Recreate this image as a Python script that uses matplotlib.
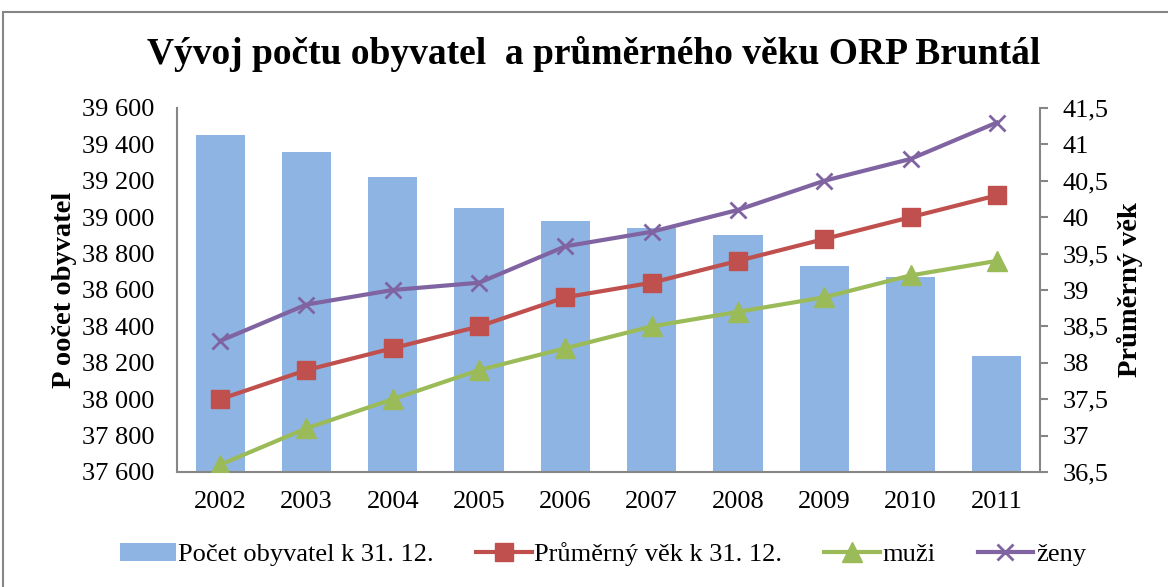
import numpy as np
import matplotlib.pyplot as plt
from matplotlib.patches import Rectangle
from matplotlib.ticker import FuncFormatter

plt.rcParams['font.family'] = ['Liberation Serif', 'DejaVu Serif']

roky = ['2002', '2003', '2004', '2005', '2006', '2007', '2008', '2009', '2010', '2011']
pocet = [39450, 39360, 39220, 39050, 38980, 38940, 38900, 38730, 38670, 38240]
vek = [37.5, 37.9, 38.2, 38.5, 38.9, 39.1, 39.4, 39.7, 40.0, 40.3]
muzi = [36.6, 37.1, 37.5, 37.9, 38.2, 38.5, 38.7, 38.9, 39.2, 39.4]
zeny = [38.3, 38.8, 39.0, 39.1, 39.6, 39.8, 40.1, 40.5, 40.8, 41.3]

grey = '#868686'

fig = plt.figure(figsize=(11.68, 5.87), dpi=100)
ax = fig.add_axes([177 / 1168, 1 - 472 / 587, (1040 - 177) / 1168, (472 - 108) / 587])
ax2 = ax.twinx()

x = np.arange(len(roky))
b = ax.bar(x, pocet, width=0.57, color='#8EB4E3', label='Počet obyvatel k 31. 12.', zorder=1)
ax.set_ylim(37600, 39600)
ax.set_yticks(np.arange(37600, 39601, 200))
ax.yaxis.set_major_formatter(FuncFormatter(lambda v, p: f'{int(v):,}'.replace(',', ' ')))
ax.set_xlim(-0.5, len(roky) - 0.5)
ax.set_xticks(x)
ax.set_xticklabels(roky)
ax.tick_params(axis='x', length=0, labelsize=19, pad=14)
ax.tick_params(axis='y', length=0, labelsize=19, pad=16)
ax.set_ylabel('P oočet obyvatel', fontsize=20.5, fontweight='bold', labelpad=4)

l1, = ax2.plot(x, vek, color='#C0504D', lw=3, marker='s', ms=13, label='Průměrný věk k 31. 12.')
l2, = ax2.plot(x, muzi, color='#9BBB59', lw=3, marker='^', ms=14, label='muži')
l3, = ax2.plot(x, zeny, color='#8064A2', lw=3, marker='x', ms=12, mew=2, label='ženy')
ax2.set_ylim(36.5, 41.5)
ax2.set_yticks(np.arange(36.5, 41.51, 0.5))
ax2.yaxis.set_major_formatter(FuncFormatter(lambda v, p: f'{v:g}'.replace('.', ',')))
ax2.tick_params(axis='y', length=6, color=grey, width=1.5, labelsize=19, pad=10)
ax2.set_ylabel('Průměrný věk', fontsize=20.5, fontweight='bold', labelpad=6)

for a in (ax, ax2):
    for s in a.spines.values():
        s.set_visible(False)
ax.spines['left'].set_visible(True)
ax.spines['bottom'].set_visible(True)
ax2.spines['right'].set_visible(True)
for s in (ax.spines['left'], ax.spines['bottom'], ax2.spines['right']):
    s.set_color(grey)
    s.set_linewidth(1.5)

fig.text(594 / 1168, 1 - 54 / 587, 'Vývoj počtu obyvatel  a průměrného věku ORP Bruntál',
         ha='center', va='center', fontsize=27, fontweight='bold')

fig.legend([b, l1, l2, l3], [b.get_label(), l1.get_label(), l2.get_label(), l3.get_label()],
           loc='center', bbox_to_anchor=(603 / 1168, 1 - 554 / 587), ncol=4, frameon=False,
           fontsize=19, handlelength=2.1, columnspacing=1.6, handletextpad=0.1)

fig.patches.append(Rectangle((3 / 1168, -0.01), 1.1, 1 - 12 / 587 + 0.01, transform=fig.transFigure,
                             fill=False, edgecolor=grey, lw=1.5))

fig.savefig('out.png', dpi=100)
